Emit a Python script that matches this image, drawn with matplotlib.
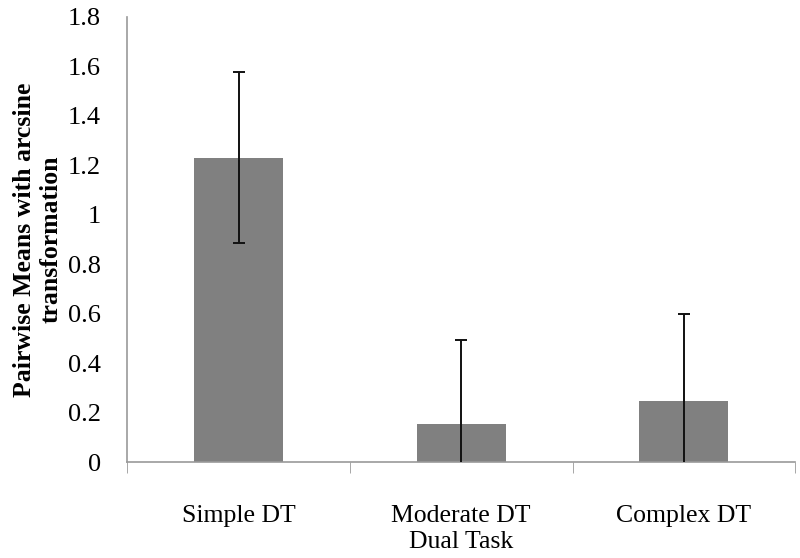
import numpy as np
import matplotlib.pyplot as plt

plt.rcParams['font.family'] = ['Liberation Serif', 'DejaVu Serif']

categories = ["Simple DT", "Moderate DT", "Complex DT"]
means = [1.23, 0.155, 0.245]
errors = [0.345, 0.34, 0.352]
yticks = [0, 0.2, 0.4, 0.6, 0.8, 1, 1.2, 1.4, 1.6, 1.8]
ytick_labels = ["0", "0.2", "0.4", "0.6", "0.8", "1", "1.2", "1.4", "1.6", "1.8"]

fig = plt.figure(figsize=(8, 5.58), dpi=100)
ax = fig.add_axes([0.159, 0.172, 0.835, 0.798])

x = np.arange(len(categories))
ax.bar(x, means, width=0.4, color="#808080", zorder=2)
ax.errorbar(x, means, yerr=errors, fmt="none", ecolor="#111111",
            elinewidth=1.4, capsize=4, capthick=1.4, zorder=3)

ax.set_xlim(-0.5, 2.5)
ax.set_ylim(0, 1.8)
ax.set_yticks(yticks)
ax.set_yticklabels(ytick_labels, fontsize=19)
ax.tick_params(axis="y", length=0, pad=19)

# category labels centered, tick marks at the boundaries
ax.set_xticks(x)
ax.set_xticklabels(categories, fontsize=18.5)
ax.tick_params(axis="x", which="major", length=0, pad=31)
ax.set_xticks([-0.5, 0.5, 1.5, 2.5], minor=True)
ax.tick_params(axis="x", which="minor", length=8, color="#999999", direction="out")

for side in ["top", "right"]:
    ax.spines[side].set_visible(False)
for side in ["left", "bottom"]:
    ax.spines[side].set_color("#999999")
    ax.spines[side].set_linewidth(1.2)

ax.set_xlabel("Dual Task", fontsize=18.5, labelpad=3)
ax.set_ylabel("Pairwise Means with arcsine\ntransformation", fontsize=18.5,
              fontweight="bold", labelpad=4, linespacing=1.2)

fig.savefig("out.png", dpi=100)
